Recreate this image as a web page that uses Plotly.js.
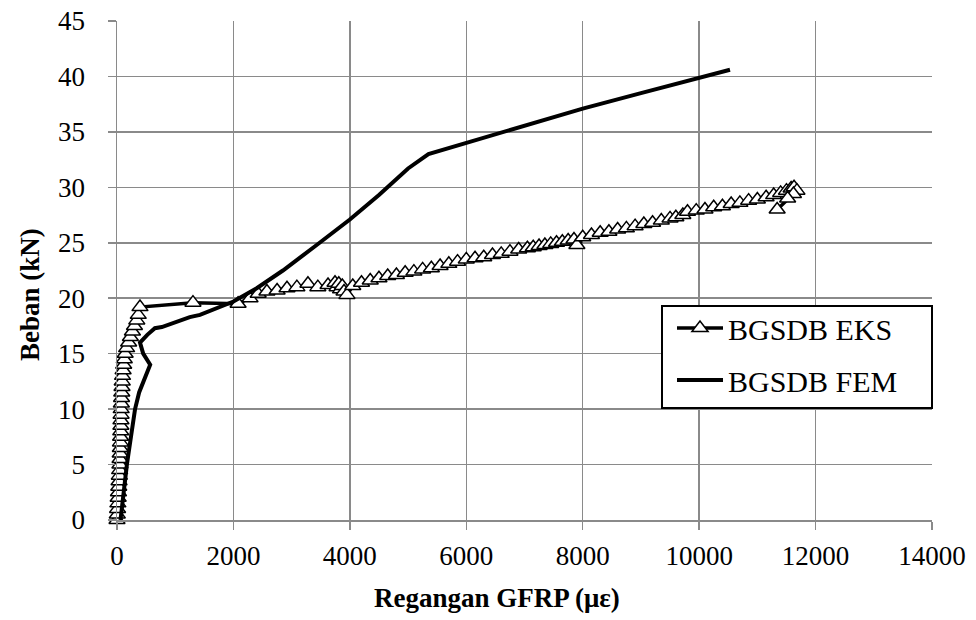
<!DOCTYPE html>
<html>
<head>
<meta charset="utf-8">
<script src="https://cdn.plot.ly/plotly-3.0.1.min.js"></script>
<style>html,body{margin:0;padding:0;background:#fff;}#chart{width:976px;height:620px;}</style>
</head>
<body>
<div id="chart"></div>
<script>
// BGSDB EKS (experimental) – strain (µε) and load (kN)
const eksStrain = [0, 5, 10, 15, 20, 25, 30, 35, 40, 45, 50, 52, 55, 57, 60, 62, 65, 67, 68, 70,
  72, 75, 78, 82, 86, 90, 95, 105, 115, 125, 140, 165, 200, 230, 265, 300, 340, 365, 395,
  1305, 2080, 2285, 2425, 2575, 2750, 2920, 3090, 3280, 3450, 3625, 3745, 3780, 3810, 3840, 3870, 3900, 3950,
  4050, 4200, 4350, 4500, 4650, 4800, 4950, 5100, 5250, 5400, 5550, 5700, 5850, 6000, 6150, 6300, 6450,
  6600, 6750, 6900, 7050, 7150, 7250, 7350, 7450, 7550, 7650, 7750, 7850, 7900, 8000, 8150, 8300, 8450,
  8600, 8750, 8900, 9050, 9200, 9350, 9500, 9600, 9720, 9800, 9950, 10100, 10250, 10400, 10550, 10700,
  10850, 11000, 11150, 11280, 11400, 11500, 11580, 11630, 11680, 11620, 11520, 11340];
const eksLoad = [0, 0.5, 1, 1.5, 2, 2.5, 3, 3.5, 4, 4.5, 5, 5.5, 6, 6.5, 7, 7.5, 8, 8.5, 9, 9.5,
  10, 10.5, 11, 11.5, 12, 12.5, 13, 13.5, 14, 14.5, 15, 15.5, 16, 16.5, 17, 17.5, 18, 18.5, 19.2,
  19.6, 19.5, 20.0, 20.4, 20.6, 20.7, 20.9, 21.0, 21.3, 21.0, 21.2, 21.4, 21.0, 21.3, 20.8, 21.1, 20.6, 20.3,
  21.1, 21.4, 21.6, 21.8, 22.0, 22.1, 22.3, 22.4, 22.6, 22.7, 22.9, 23.1, 23.3, 23.5, 23.6, 23.7, 23.9,
  24.0, 24.2, 24.4, 24.5, 24.6, 24.7, 24.8, 24.9, 25.0, 25.1, 25.2, 25.3, 24.8, 25.5, 25.7, 25.9, 26.0,
  26.2, 26.3, 26.5, 26.7, 26.8, 27.0, 27.2, 27.3, 27.5, 27.8, 27.9, 28.0, 28.2, 28.3, 28.5, 28.6,
  28.8, 28.9, 29.1, 29.3, 29.5, 29.7, 29.9, 30.0, 29.7, 29.4, 29.0, 28.0];

// BGSDB FEM (numerical)
const femStrain = [60, 110, 170, 240, 310, 380, 450, 570, 450, 395, 520, 650, 770, 1000, 1250, 1425,
  1700, 2000, 2400, 2850, 3430, 4000, 4500, 5000, 5350, 6000, 7000, 8000, 9000, 10000, 10530];
const femLoad = [0, 2.5, 5, 7.5, 10, 11.5, 12.5, 14.0, 15.0, 16.0, 16.7, 17.3, 17.4, 17.8, 18.3, 18.5,
  19.1, 19.7, 20.9, 22.5, 24.8, 27.1, 29.3, 31.7, 33.0, 34.0, 35.6, 37.1, 38.5, 39.9, 40.6];

const seriesNames = ['BGSDB EKS', 'BGSDB FEM'];
const xTitle = 'Regangan GFRP (με)';
const yTitle = 'Beban (kN)';

const FONT = '"Liberation Serif", "Times New Roman", Times, serif';
const GRID = '#8a8a8a';

// pixel -> paper helpers (plot area 117..932 x 21..520)
const px = v => (v - 117) / 815;
const py = v => (520 - v) / 499;

const traces = [
  {
    x: eksStrain, y: eksLoad, name: seriesNames[0], type: 'scatter', mode: 'lines+markers',
    line: {color: '#000', width: 3.5},
    marker: {symbol: 'triangle-up', size: 14, color: '#fff', line: {color: '#000', width: 1.5}},
    cliponaxis: false, legendgroup: 'a'
  },
  {
    x: femStrain, y: femLoad, name: seriesNames[1], type: 'scatter', mode: 'lines',
    line: {color: '#000', width: 4},
    legendgroup: 'b'
  }
];

const layout = {
  width: 976, height: 620,
  margin: {l: 117, r: 44, t: 21, b: 100},
  paper_bgcolor: '#fff', plot_bgcolor: '#fff',
  font: {family: FONT, color: '#000', size: 27},
  showlegend: true,
  legend: {
    x: px(672), xanchor: 'left', y: py(302), yanchor: 'top',
    bgcolor: 'rgba(0,0,0,0)', borderwidth: 0,
    font: {family: FONT, size: 30, color: '#000'},
    traceorder: 'grouped', tracegroupgap: 10, itemwidth: 46
  },
  shapes: [
    {type: 'rect', xref: 'paper', yref: 'paper', x0: px(662), x1: px(932), y0: py(408), y1: py(306),
     line: {color: '#000', width: 2}, fillcolor: '#fff', layer: 'above'}
  ],
  xaxis: {
    range: [0, 14000], dtick: 2000, tick0: 0, tickformat: 'd',
    showgrid: true, gridcolor: GRID, gridwidth: 1.5,
    zeroline: false, showline: true, linecolor: GRID, linewidth: 1.5,
    ticks: 'outside', ticklen: 8, tickwidth: 1.5, tickcolor: GRID,
    tickfont: {family: FONT, size: 27, color: '#000'},
    ticklabelstandoff: 3,
    title: {text: ''}
  },
  yaxis: {
    range: [0, 45], dtick: 5, tick0: 0,
    showgrid: true, gridcolor: GRID, gridwidth: 1.5,
    zeroline: false, showline: true, linecolor: GRID, linewidth: 1.5,
    ticks: 'outside', ticklen: 8, tickwidth: 1.5, tickcolor: GRID,
    tickfont: {family: FONT, size: 27, color: '#000'},
    ticklabelstandoff: 17,
    title: {text: ''}
  },
  annotations: [
    {text: '<b>' + xTitle + '</b>', xref: 'paper', yref: 'paper', x: px(497), y: py(598),
     xanchor: 'center', yanchor: 'middle', showarrow: false, font: {family: FONT, size: 27, color: '#000'}},
    {text: '<b>' + yTitle + '</b>', xref: 'paper', yref: 'paper', x: px(30), y: py(295),
     xanchor: 'center', yanchor: 'middle', textangle: -90, showarrow: false, font: {family: FONT, size: 27, color: '#000'}}
  ]
};

Plotly.newPlot('chart', traces, layout, {staticPlot: true, displayModeBar: false});
</script>
</body>
</html>
